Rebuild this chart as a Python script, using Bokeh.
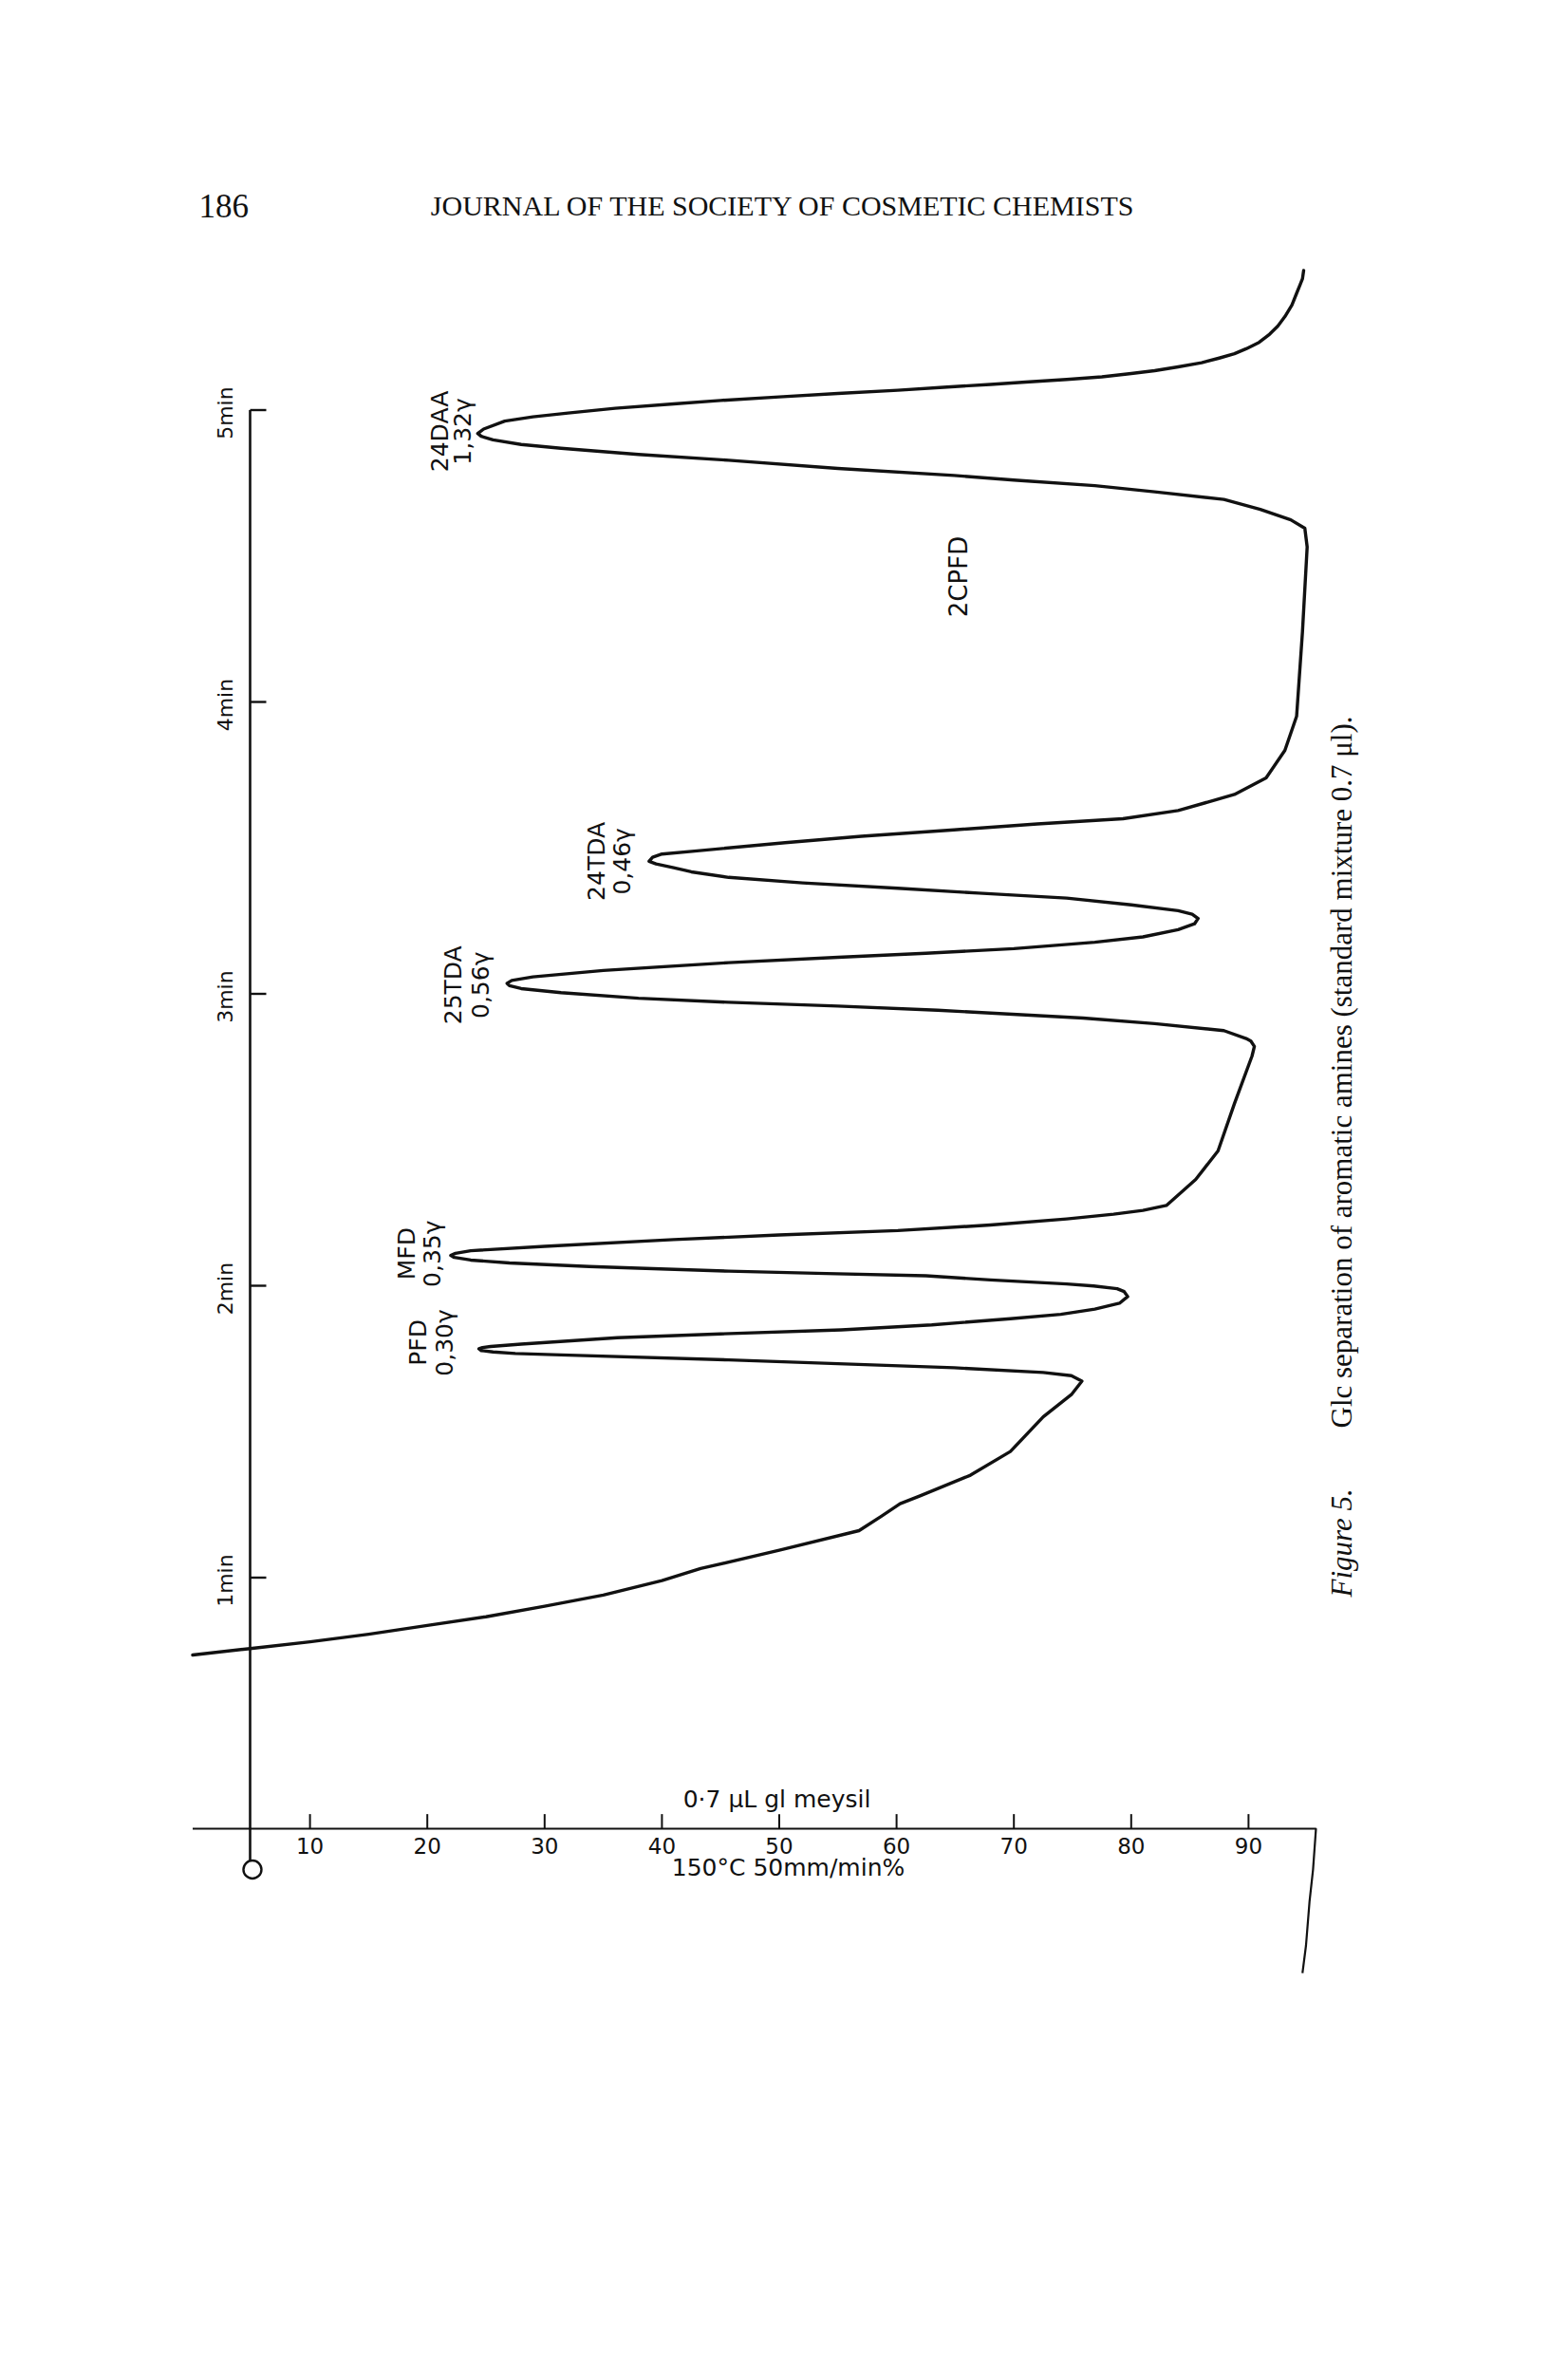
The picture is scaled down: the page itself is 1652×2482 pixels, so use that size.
import numpy as np
from bokeh.plotting import figure
from bokeh.models import Range1d
from bokeh.core.properties import value
from bokeh.embed import file_html
from bokeh.resources import INLINE

# ---------------- data ----------------
# recorder trace: signal (%) against retention time (min), in drawing order
trace_pct = [0.0, 4.9, 10, 15, 20, 25, 30, 35, 40, 43.3, 50, 56.8, 58.7, 60.3, 62.0,
             66.3, 69.7, 72.5, 74.9, 75.8, 74.9, 72.5, 64.9, 55, 45.7, 31.4, 27.5, 25.6,
             24.6, 24.4, 24.7, 25.4, 28, 36.2, 45, 55.3, 63, 69.7, 74, 76.9, 79.0, 79.7,
             79.4, 78.8, 76.8, 74.5, 68, 62.5, 54, 45.7, 38, 33.8, 27, 23.7, 22.3, 22.0,
             22.4, 23.7, 30, 41.0, 50, 60.1, 68, 74.5, 78.5, 81.0, 83.0, 85.5, 87.4, 88.8,
             90.3, 90.5, 90.2, 89.8, 87.9, 82, 75.9, 63.5, 55, 45.7, 38, 31.4, 28, 27.0,
             26.8, 27.2, 29.0, 35, 45.7, 55, 62.5, 70, 76.9, 81, 84.0, 85.4, 85.7, 85.2,
             84.0, 80, 74.5, 67, 60.1, 52, 45.7, 42.5, 41.0, 39.5, 38.9, 39.2, 40.0, 43,
             50.5, 57, 64.9, 72, 79.3, 84.0, 88.8, 91.5, 93.1, 94.1, 94.6, 95.0, 94.8,
             93.6, 91, 87.9, 82, 76.9, 70, 64.9, 55, 45.7, 38, 31.4, 28, 25.6, 24.6, 24.3,
             24.8, 26.6, 29, 32, 36, 41.0, 45, 50, 55, 60.1, 64, 68, 71, 74.5, 77.5, 80,
             82, 84.0, 86, 87.5, 88.8, 89.8, 90.9, 91.8, 92.5, 93.1, 93.7, 94.1, 94.4,
             94.6, 94.7]
trace_min = [0.735, 0.757, 0.78, 0.806, 0.836, 0.866, 0.902, 0.94, 0.99, 1.031, 1.094,
             1.161, 1.210, 1.253, 1.280, 1.351, 1.432, 1.551, 1.627, 1.673, 1.692, 1.703,
             1.719, 1.733, 1.746, 1.763, 1.768, 1.773, 1.778, 1.784, 1.788, 1.792, 1.800,
             1.822, 1.835, 1.849, 1.866, 1.887, 1.902, 1.920, 1.940, 1.963, 1.980, 1.990,
             1.999, 2.006, 2.020, 2.034, 2.042, 2.050, 2.060, 2.066, 2.078, 2.088, 2.097,
             2.104, 2.111, 2.120, 2.135, 2.158, 2.174, 2.189, 2.208, 2.229, 2.245, 2.258,
             2.275, 2.364, 2.462, 2.624, 2.787, 2.820, 2.838, 2.847, 2.874, 2.898, 2.917,
             2.944, 2.958, 2.971, 2.985, 3.004, 3.018, 3.028, 3.036, 3.046, 3.058, 3.080,
             3.107, 3.125, 3.139, 3.155, 3.177, 3.195, 3.220, 3.240, 3.258, 3.273, 3.285,
             3.305, 3.328, 3.345, 3.362, 3.380, 3.399, 3.418, 3.432, 3.445, 3.454, 3.468,
             3.479, 3.490, 3.518, 3.540, 3.562, 3.582, 3.600, 3.628, 3.683, 3.740, 3.834,
             3.951, 4.241, 4.531, 4.595, 4.624, 4.660, 4.694, 4.720, 4.741, 4.760, 4.776,
             4.800, 4.828, 4.848, 4.869, 4.882, 4.898, 4.910, 4.920, 4.935, 4.962, 4.977,
             4.990, 5.006, 5.021, 5.033, 5.045, 5.057, 5.068, 5.078, 5.088, 5.096, 5.105,
             5.114, 5.125, 5.135, 5.148, 5.162, 5.178, 5.193, 5.210, 5.232, 5.260, 5.288,
             5.320, 5.360, 5.400, 5.430, 5.450, 5.478]

# signal scale (%) and time scale (min)
pct_ticks = [10, 20, 30, 40, 50, 60, 70, 80, 90]
pct_tick_labels = ["10", "20", "30", "40", "50", "60", "70", "80", "90"]
time_ticks = [1, 2, 3, 4, 5]
time_tick_labels = ["1min", "2min", "3min", "4min", "5min"]

# identified peaks
peak_names = ["PFD", "MFD", "25TDA", "24TDA", "24DAA"]
peak_amounts = ["0,30γ", "0,35γ", "0,56γ", "0,46γ", "1,32γ"]
peak_times = [1.784, 2.104, 3.036, 3.454, 4.920]
extra_peak_name = "2CPFD"

# ---------------- layout (page pixels -> data units) ----------------
W, H, MARGIN = 1636, 2466, 8
X0_PX, PX_PER_PCT = 210.5, 12.36     # page x of 0 %, pixels per %
T0_PX, PX_PER_MIN = 1977.0, 307.5    # page y of 0 min, pixels per min


def xd(X):
    return (X - X0_PX) / PX_PER_PCT


def td(Y):
    return (T0_PX - Y) / PX_PER_MIN


p = figure(width=W, height=H, title=None,
           x_range=Range1d(xd(MARGIN), xd(MARGIN + W)),
           y_range=Range1d(td(MARGIN + H), td(MARGIN)),
           output_backend="svg", toolbar_location=None,
           x_axis_location=None, y_axis_location=None, min_border=0)
p.outline_line_color = None
p.background_fill_color = "white"
p.border_fill_color = "white"
p.xgrid.visible = False
p.ygrid.visible = False

INK = "#111111"
SANS = value("DejaVu Sans")
SERIF = value("Liberation Serif")
ROT = np.pi / 2

# --- time axis (vertical) ---
axis_x = xd(271)
axis_base = td(1934)
p.line([axis_x, axis_x], [time_ticks[-1], td(1968)], line_color=INK, line_width=2.6)
p.segment(x0=[axis_x] * len(time_ticks), y0=time_ticks,
          x1=[xd(288)] * len(time_ticks), y1=time_ticks, line_color=INK, line_width=2.4)
p.text(x=[xd(245)] * len(time_ticks), y=[t - 0.01 for t in time_ticks], text=time_tick_labels,
       angle=ROT, text_font=SANS, text_font_size="22px", text_color=INK,
       text_align="center", text_baseline="middle")
p.scatter(x=[axis_x + 0.2], y=[0.0], marker="circle", size=19, fill_color=None,
          line_color=INK, line_width=2.4)

# --- signal axis (horizontal) with paper edge turning down ---
p.line([0.0, pct_ticks[-1] + 5.75, pct_ticks[-1] + 5.5, pct_ticks[-1] + 5.2,
        pct_ticks[-1] + 4.9, pct_ticks[-1] + 4.6],
       [axis_base, axis_base, axis_base - 0.14, axis_base - 0.25,
        axis_base - 0.4, axis_base - 0.495],
       line_color=INK, line_width=2.2)
p.segment(x0=pct_ticks, y0=[axis_base] * len(pct_ticks), x1=pct_ticks,
          y1=[axis_base + 0.05] * len(pct_ticks), line_color=INK, line_width=2.0)
p.text(x=pct_ticks, y=[td(1952)] * len(pct_ticks), text=pct_tick_labels,
       text_font=SANS, text_font_size="23px", text_color=INK,
       text_align="center", text_baseline="middle")
p.text(x=[xd(830)], y=[td(1903)], text=["0·7 μL gl  meysil"], text_font=SANS,
       text_font_size="25px", text_color=INK, text_align="center", text_baseline="middle")
p.text(x=[xd(838)], y=[td(1975)], text=["150°C 50mm/min%"], text_font=SANS,
       text_font_size="25px", text_color=INK, text_align="center", text_baseline="middle")

# --- the trace ---
p.line(trace_pct, trace_min, line_color=INK, line_width=3.4, line_join="round",
       line_cap="round")

# --- peak labels ---
name_x_px = [448, 436, 485, 636, 471]
amount_x_px = [476, 463, 514, 663, 495]
name_dt = [0.021, 0.006, -0.006, 0.0, 0.007]
p.text(x=[xd(v) for v in name_x_px], y=[t + d for t, d in zip(peak_times, name_dt)],
       text=peak_names, angle=ROT, text_font=SANS, text_font_size="25px", text_color=INK,
       text_align="center", text_baseline="middle")
p.text(x=[xd(v) for v in amount_x_px], y=[t + d for t, d in zip(peak_times, name_dt)],
       text=peak_amounts, angle=ROT, text_font=SANS, text_font_size="25px",
       text_color=INK, text_align="center", text_baseline="middle")
p.text(x=[xd(1017)], y=[td(615)], text=[extra_peak_name], angle=ROT, text_font=SANS,
       text_font_size="26px", text_color=INK, text_align="center", text_baseline="middle")

# --- page header ---
p.text(x=[xd(217)], y=[td(224)], text=["186"], text_font=SERIF, text_font_size="35px",
       text_color=INK, text_align="left", text_baseline="middle")
p.text(x=[xd(833)], y=[td(224)], text=["JOURNAL OF THE SOCIETY OF COSMETIC CHEMISTS"],
       text_font=SERIF, text_font_size="30px", text_color=INK, text_align="center",
       text_baseline="middle")

# --- caption (rotated) ---
p.text(x=[xd(1421)], y=[td(1690)], text=["Figure 5."], angle=ROT, text_font=SERIF,
       text_font_style="italic", text_font_size="31px", text_color=INK,
       text_align="left", text_baseline="middle")
p.text(x=[xd(1421)], y=[td(1512)],
       text=["Glc separation of aromatic amines (standard mixture 0.7 μl)."],
       angle=ROT, text_font=SERIF, text_font_size="31px", text_color=INK,
       text_align="left", text_baseline="middle")

open("out.html", "w").write(file_html(p, INLINE))
